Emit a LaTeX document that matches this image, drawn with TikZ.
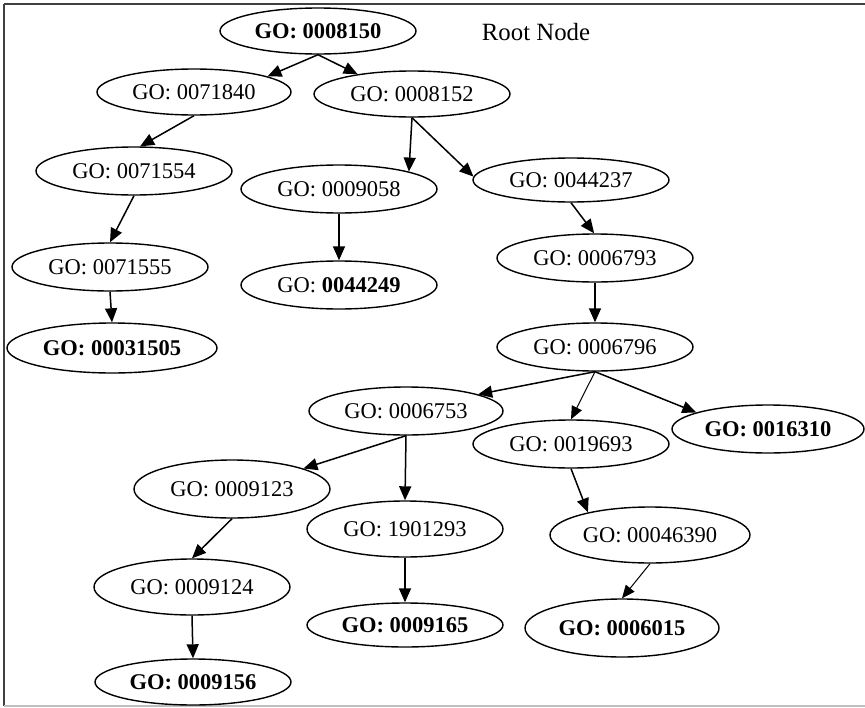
\documentclass[tikz,border=0pt]{standalone}
\usepackage{fontspec}
\setmainfont{Liberation Serif}
\usetikzlibrary{arrows.meta,shapes.geometric}
\begin{document}
\begin{tikzpicture}[x=1pt,y=-1pt,
  go/.style={ellipse,draw=black,line width=1.4pt,inner sep=0pt,
    minimum width=196pt,minimum height=48pt,
    font=\fontsize{22.5}{27}\selectfont},
  gob/.style={go,font=\fontsize{22.5}{27}\selectfont\bfseries},
  edge/.style={line width=1.5pt,-{Triangle[length=14pt,width=12pt]}},
  thinedge/.style={line width=1pt,-{Triangle[length=13pt,width=11pt]}}]
\useasboundingbox (0,0) rectangle (865,707);
\fill[white] (0,0) rectangle (865,707);
% frame
\draw[line width=2pt,black!75] (4,4) -- (865,4);
\draw[line width=2pt,black!75] (4,4) -- (4,706);
\draw[line width=1.5pt,black!25] (4,706) -- (865,706);
% nodes
\node[gob,minimum height=46pt] (A) at (318,31) {GO: 0008150};
\node[font=\fontsize{24.8}{29}\selectfont] (root) at (536,32) {Root Node};
\node[go,minimum width=194pt,minimum height=46pt] (B) at (194,92) {GO: 0071840};
\node[go,minimum height=46pt] (C) at (412,94) {GO: 0008152};
\node[go] (D) at (134,171) {GO: 0071554};
\node[go] (E) at (339,189) {GO: 0009058};
\node[go,minimum height=44pt] (F) at (571,180) {GO: 0044237};
\node[go] (G) at (110,267) {GO: 0071555};
\node[go] (H) at (339,285) {GO: \textbf{0044249}};
\node[go] (I) at (595,258) {GO: 0006793};
\node[gob,minimum width=210pt,minimum height=50pt] (J) at (112,348) {GO: 00031505};
\node[go] (K) at (595,347) {GO: 0006796};
\node[go,minimum width=194pt] (L) at (406,411) {GO: 0006753};
\node[go] (M) at (571,444) {GO: 0019693};
\node[gob,minimum width=192pt] (N) at (768,429) {GO: 0016310};
\node[go,minimum height=58pt] (O) at (232,489) {GO: 0009123};
\node[go,minimum height=56pt] (P) at (405,529) {GO: 1901293};
\node[go,minimum width=200pt,minimum height=56pt] (Q) at (650,535) {GO: 00046390};
\node[go,minimum height=56pt] (R) at (192,587) {GO: 0009124};
\node[gob,minimum height=44pt] (S) at (405,625) {GO: 0009165};
\node[gob,minimum width=194pt,minimum height=58pt] (T) at (622,628) {GO: 0006015};
\node[gob,minimum height=46pt] (U) at (193,682) {GO: 0009156};
% edges
\draw[edge] (A.south) -- (B.12);
\draw[edge] (A.south) -- (C.160);
\draw[edge] (B.south) -- (D.76);
\draw[edge] (C.south) -- (E.14);
\draw[edge] (C.south) -- (F.178);
\draw[edge] (D.south) -- (G.north);
\draw[edge] (E.south) -- (H.north);
\draw[edge] (F.south) -- (I.92);
\draw[edge] (G.south) -- (J.north);
\draw[edge] (I.south) -- (K.north);
\draw[edge] (K.south) -- (L.13);
\draw[thinedge] (K.south) -- (M.north);
\draw[edge] (K.south) -- (N.167);
\draw[edge] (L.south) -- (O.16);
\draw[edge] (L.south) -- (P.north);
\draw[edge] (M.south) -- (Q.160);
\draw[edge] (O.south) -- (R.north);
\draw[edge] (P.south) -- (S.north);
\draw[thinedge] (Q.south) -- (T.north);
\draw[edge] (R.south) -- (U.north);
\end{tikzpicture}
\end{document}
